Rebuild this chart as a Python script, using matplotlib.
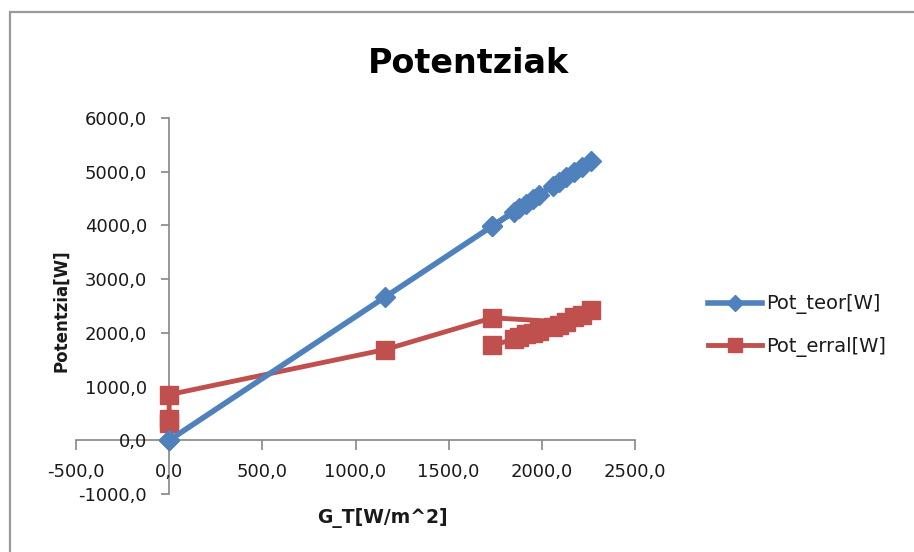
import matplotlib
matplotlib.use("Agg")
import matplotlib.pyplot as plt
from matplotlib.lines import Line2D
from matplotlib.patches import Rectangle

# data (G_T [W/m^2], powers [W]), in series order
g_t = [0, 0, 0, 1160, 1735, 2130, 2175, 2262, 2215, 2090, 2060, 1985, 1950, 1915, 1880, 1850, 1735]
pot_teor = [0, 0, 0, 2670, 3990, 4900, 5000, 5205, 5095, 4810, 4740, 4565, 4485, 4405, 4325, 4255, 3990]
pot_erral = [330, 400, 850, 1690, 2280, 2200, 2290, 2420, 2330, 2150, 2110, 2030, 2000, 1970, 1930, 1880, 1770]

x_ticks = [-500, 0, 500, 1000, 1500, 2000, 2500]
x_tick_labels = ["-500,0", "0,0", "500,0", "1000,0", "1500,0", "2000,0", "2500,0"]
y_ticks = [-1000, 0, 1000, 2000, 3000, 4000, 5000, 6000]
y_tick_labels = ["-1000,0", "0,0", "1000,0", "2000,0", "3000,0", "4000,0", "5000,0", "6000,0"]

blue = "#4F81BD"
red = "#C0504D"
axis_grey = "#868686"
text_col = "#1a1a1a"

fig = plt.figure(figsize=(9.14, 5.52), dpi=100)

# outer chart frame
frame = Rectangle((10 / 914, -0.2), 1.5, 1.2 - 12 / 552, transform=fig.transFigure,
                  fill=False, edgecolor="#9a9a9a", linewidth=1.6)
fig.patches.append(frame)

ax = fig.add_axes([76 / 914, 1 - 494 / 552, 559 / 914, 376 / 552])
ax.set_xlim(-500, 2500)
ax.set_ylim(-1000, 6000)

ax.plot(g_t, pot_teor, color=blue, linewidth=4, marker="D", markersize=10,
        label="Pot_teor[W]", zorder=3)
ax.plot(g_t, pot_erral, color=red, linewidth=3.5, marker="s", markersize=13,
        label="Pot_erral[W]", zorder=2)

# excel style axes crossing at zero
ax.spines["left"].set_position(("data", 0))
ax.spines["bottom"].set_position(("data", 0))
ax.spines["top"].set_visible(False)
ax.spines["right"].set_visible(False)
for s in ("left", "bottom"):
    ax.spines[s].set_color(axis_grey)
    ax.spines[s].set_linewidth(1.2)
    ax.spines[s].set_zorder(1)

ax.set_xticks(x_ticks)
ax.set_xticklabels(x_tick_labels)
ax.set_yticks(y_ticks)
ax.set_yticklabels(y_tick_labels)
ax.tick_params(axis="x", direction="out", length=7, width=1.2, color=axis_grey,
               pad=9, labelsize=13, labelcolor=text_col)
ax.tick_params(axis="y", direction="out", length=6, width=1.2, color=axis_grey,
               pad=10, labelsize=13, labelcolor=text_col)
ax.patch.set_alpha(0)

fig.text(468 / 914, 1 - 73 / 552, "Potentziak", ha="center", va="baseline",
         fontsize=24, fontweight="bold", color="black")
fig.text(382 / 914, 1 - 523 / 552, "G_T[W/m^2]", ha="center", va="baseline",
         fontsize=13.5, fontweight="bold", color=text_col)
fig.text(61 / 914, 1 - 311 / 552, "Potentzia[W]", ha="center", va="center",
         rotation=90, fontsize=12, fontweight="bold", color=text_col)

handles = [
    Line2D([], [], color=blue, linewidth=4, marker="D", markersize=8),
    Line2D([], [], color=red, linewidth=3.5, marker="s", markersize=10),
]
ax.legend(handles, ["Pot_teor[W]", "Pot_erral[W]"], loc="center left",
          bbox_to_anchor=(708 / 914, 1 - 325.5 / 552), bbox_transform=fig.transFigure,
          frameon=False, fontsize=14, handlelength=2.8, handletextpad=0.2,
          labelspacing=1.15, borderpad=0, borderaxespad=0, labelcolor=text_col)

fig.savefig("out.png", dpi=100, facecolor="white")
